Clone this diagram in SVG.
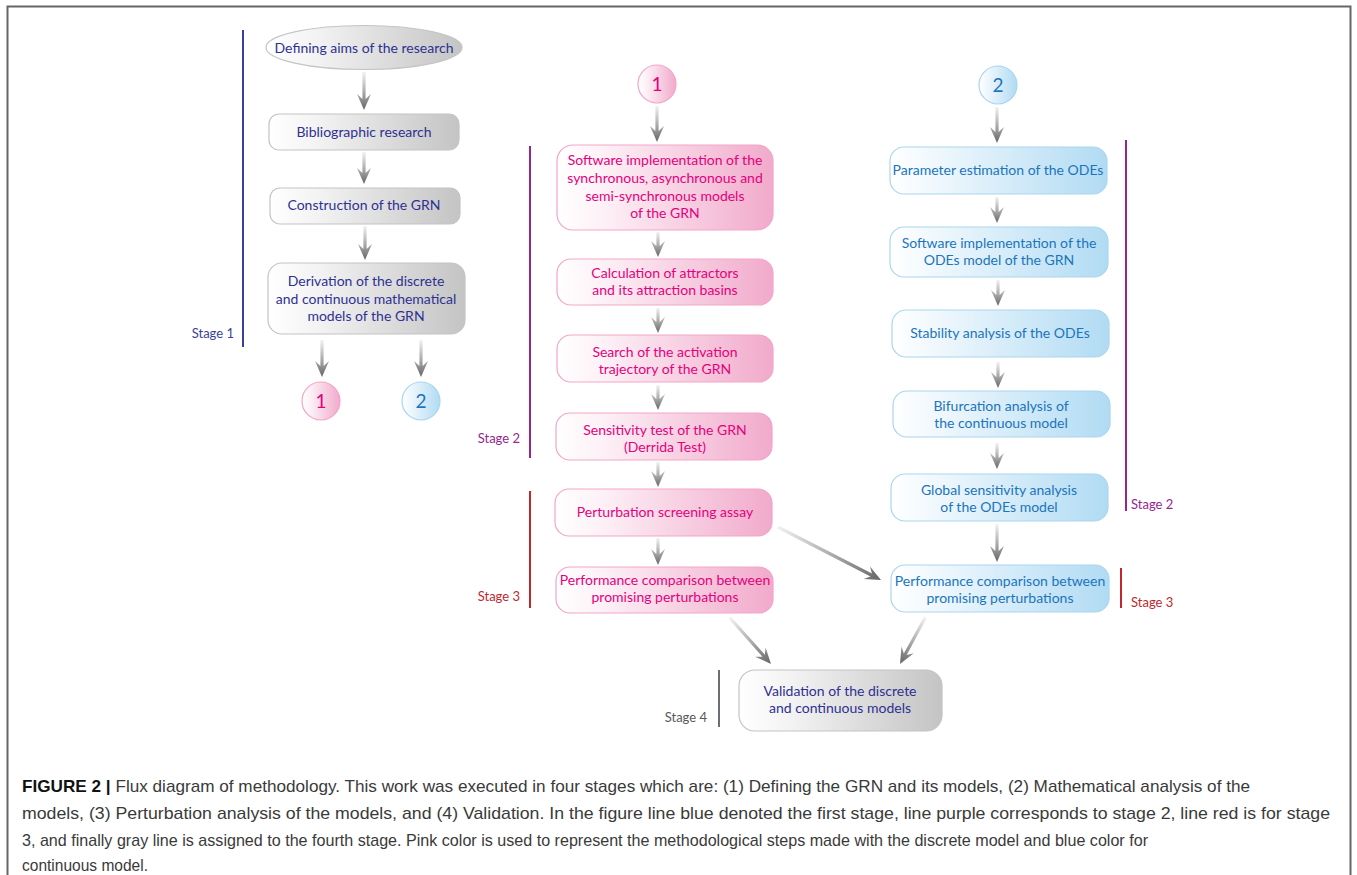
<svg xmlns="http://www.w3.org/2000/svg" width="1357" height="875" viewBox="0 0 1357 875">
<defs>
  <linearGradient id="gGray" x1="0" y1="0" x2="1" y2="0">
    <stop offset="0" stop-color="#ffffff"/><stop offset="0.25" stop-color="#f3f3f3"/><stop offset="1" stop-color="#c4c4c4"/>
  </linearGradient>
  <linearGradient id="gPink" x1="0" y1="0" x2="1" y2="0">
    <stop offset="0" stop-color="#ffffff"/><stop offset="0.2" stop-color="#fdf2f7"/><stop offset="1" stop-color="#f1aacb"/>
  </linearGradient>
  <linearGradient id="gBlue" x1="0" y1="0" x2="1" y2="0">
    <stop offset="0" stop-color="#ffffff"/><stop offset="0.2" stop-color="#f0f8fd"/><stop offset="1" stop-color="#b1dbf3"/>
  </linearGradient>
  <linearGradient id="gArrow" x1="0" y1="0" x2="0" y2="1">
    <stop offset="0" stop-color="#f2f2f2"/><stop offset="0.55" stop-color="#a8a8a8"/><stop offset="1" stop-color="#666666"/>
  </linearGradient>
  <style>
    .gbox{fill:url(#gGray);stroke:#c4c4c4;stroke-width:1.2}
    .pbox{fill:url(#gPink);stroke:#f3a5c8;stroke-width:1.2}
    .bbox{fill:url(#gBlue);stroke:#a9d6f0;stroke-width:1.2}
    .t{font-family:Lato,"Open Sans",sans-serif;font-size:14px;text-anchor:middle}
    .tg{fill:#2e3192}
    .tp{fill:#e5007d}
    .tb{fill:#1b75bc}
    .num{font-family:Lato,"Open Sans",sans-serif;font-size:19px;text-anchor:middle}
    .arr{fill:url(#gArrow)}
    .st{font-family:Lato,"Open Sans",sans-serif;font-size:13px}
    .cap{font-family:"Liberation Sans",Arial,sans-serif;font-size:17px;fill:#3a3a3a}
  </style>
</defs>
<rect x="0" y="0" width="1357" height="875" fill="#ffffff"/>
<path d="M7.5,880 L7.5,6.5 L1350.5,6.5 L1350.5,880" fill="none" stroke="#666" stroke-width="2"/>

<!-- stage lines -->
<g id="stages">
  <line x1="243" y1="30" x2="243" y2="347" stroke="#3b3f98" stroke-width="2"/>
  <text class="st" x="234" y="338" fill="#3b3f98" text-anchor="end">Stage 1</text>
  <line x1="530" y1="146" x2="530" y2="458" stroke="#93278f" stroke-width="2"/>
  <text class="st" x="520" y="443" fill="#93278f" text-anchor="end">Stage 2</text>
  <line x1="530" y1="491" x2="530" y2="608" stroke="#c1272d" stroke-width="2"/>
  <text class="st" x="520" y="601" fill="#c1272d" text-anchor="end">Stage 3</text>
  <line x1="1126" y1="140" x2="1126" y2="511" stroke="#93278f" stroke-width="2"/>
  <text class="st" x="1131" y="509" fill="#93278f">Stage 2</text>
  <line x1="1121" y1="568" x2="1121" y2="608" stroke="#c1272d" stroke-width="2"/>
  <text class="st" x="1131" y="607" fill="#c1272d">Stage 3</text>
  <line x1="719" y1="670" x2="719" y2="727" stroke="#6d6e71" stroke-width="2"/>
  <text class="st" x="707" y="722" fill="#58595b" text-anchor="end">Stage 4</text>
</g>

<!-- nodes: stage 1 -->
<g id="n-aims">
  <ellipse cx="364" cy="47.5" rx="98" ry="22" class="gbox"/>
  <text class="t tg" x="364" y="52.5">Defining aims of the research</text>
</g>
<g id="n-biblio">
  <rect x="269" y="114" width="190" height="36" rx="10" class="gbox"/>
  <text class="t tg" x="364" y="137">Bibliographic research</text>
</g>
<g id="n-construction">
  <rect x="270" y="188" width="190" height="36" rx="10" class="gbox"/>
  <text class="t tg" x="364" y="210">Construction of the GRN</text>
</g>
<g id="n-derivation">
  <rect x="268" y="263" width="197" height="71" rx="14" class="gbox"/>
  <text class="t tg" x="366" y="286">Derivation of the discrete</text>
  <text class="t tg" x="366" y="303.5">and continuous mathematical</text>
  <text class="t tg" x="366" y="321">models of the GRN</text>
</g>
<g id="n-c1a">
  <circle cx="321" cy="401" r="19" fill="url(#gPink)" stroke="#f3a5c8" stroke-width="1.2"/>
  <text class="num tp" x="321" y="408">1</text>
</g>
<g id="n-c2a">
  <circle cx="421" cy="401" r="19" fill="url(#gBlue)" stroke="#a9d6f0" stroke-width="1.2"/>
  <text class="num tb" x="421" y="408">2</text>
</g>

<!-- discrete column -->
<g id="n-c1b">
  <circle cx="657" cy="84" r="19" fill="url(#gPink)" stroke="#f3a5c8" stroke-width="1.2"/>
  <text class="num tp" x="657" y="91">1</text>
</g>
<g id="n-sw-discrete">
  <rect x="557" y="145" width="216" height="85" rx="16" class="pbox"/>
  <text class="t tp" x="665" y="165">Software implementation of the</text>
  <text class="t tp" x="665" y="183">synchronous, asynchronous and</text>
  <text class="t tp" x="665" y="201">semi-synchronous models</text>
  <text class="t tp" x="665" y="218">of the GRN</text>
</g>
<g id="n-attractors">
  <rect x="557" y="259" width="216" height="46" rx="14" class="pbox"/>
  <text class="t tp" x="665" y="278">Calculation of attractors</text>
  <text class="t tp" x="665" y="295">and its attraction basins</text>
</g>
<g id="n-trajectory">
  <rect x="557" y="335" width="216" height="47" rx="14" class="pbox"/>
  <text class="t tp" x="665" y="357">Search of the activation</text>
  <text class="t tp" x="665" y="374">trajectory of the GRN</text>
</g>
<g id="n-derrida">
  <rect x="556" y="413" width="216" height="47" rx="14" class="pbox"/>
  <text class="t tp" x="665" y="435">Sensitivity test of the GRN</text>
  <text class="t tp" x="665" y="452">(Derrida Test)</text>
</g>
<g id="n-screening">
  <rect x="555" y="489" width="217" height="47" rx="14" class="pbox"/>
  <text class="t tp" x="665" y="517">Perturbation screening assay</text>
</g>
<g id="n-perf-discrete">
  <rect x="556" y="567" width="217" height="46" rx="14" class="pbox"/>
  <text class="t tp" x="665" y="585">Performance comparison between</text>
  <text class="t tp" x="665" y="602">promising perturbations</text>
</g>

<!-- continuous column -->
<g id="n-c2b">
  <circle cx="998" cy="85" r="19" fill="url(#gBlue)" stroke="#a9d6f0" stroke-width="1.2"/>
  <text class="num tb" x="998" y="92">2</text>
</g>
<g id="n-param">
  <rect x="890" y="147" width="217" height="47" rx="14" class="bbox"/>
  <text class="t tb" x="998" y="175">Parameter estimation of the ODEs</text>
</g>
<g id="n-sw-ode">
  <rect x="890" y="227" width="218" height="50" rx="14" class="bbox"/>
  <text class="t tb" x="999" y="248">Software implementation of the</text>
  <text class="t tb" x="999" y="265">ODEs model of the GRN</text>
</g>
<g id="n-stability">
  <rect x="892" y="310" width="217" height="47" rx="14" class="bbox"/>
  <text class="t tb" x="1000" y="338">Stability analysis of the ODEs</text>
</g>
<g id="n-bifurcation">
  <rect x="893" y="391" width="217" height="46" rx="14" class="bbox"/>
  <text class="t tb" x="1001" y="411">Bifurcation analysis of</text>
  <text class="t tb" x="1001" y="428">the continuous model</text>
</g>
<g id="n-global">
  <rect x="891" y="474" width="217" height="47" rx="14" class="bbox"/>
  <text class="t tb" x="999" y="495">Global sensitivity analysis</text>
  <text class="t tb" x="999" y="512">of the ODEs model</text>
</g>
<g id="n-perf-cont">
  <rect x="891" y="565" width="218" height="47" rx="14" class="bbox"/>
  <text class="t tb" x="1000" y="586">Performance comparison between</text>
  <text class="t tb" x="1000" y="603">promising perturbations</text>
</g>

<!-- stage 4 -->
<g id="n-validation">
  <rect x="739" y="670" width="203" height="61" rx="16" class="gbox"/>
  <text class="t tg" x="840" y="696">Validation of the discrete</text>
  <text class="t tg" x="840" y="713">and continuous models</text>
</g>

<!-- connectors -->
<g id="connectors">
  <path class="arr" transform="translate(364,110)" d="M-1.6,-38 L1.6,-38 L1.6,-11 L7,-16 L0,0 L-7,-16 L-1.6,-11 Z"/>
  <path class="arr" transform="translate(364,184)" d="M-1.6,-32 L1.6,-32 L1.6,-11 L7,-16 L0,0 L-7,-16 L-1.6,-11 Z"/>
  <path class="arr" transform="translate(365,260)" d="M-1.6,-34 L1.6,-34 L1.6,-11 L7,-16 L0,0 L-7,-16 L-1.6,-11 Z"/>
  <path class="arr" transform="translate(322,377)" d="M-1.6,-37 L1.6,-37 L1.6,-11 L7,-16 L0,0 L-7,-16 L-1.6,-11 Z"/>
  <path class="arr" transform="translate(421,377)" d="M-1.6,-37 L1.6,-37 L1.6,-11 L7,-16 L0,0 L-7,-16 L-1.6,-11 Z"/>

  <path class="arr" transform="translate(657,142)" d="M-1.6,-36 L1.6,-36 L1.6,-11 L7,-16 L0,0 L-7,-16 L-1.6,-11 Z"/>
  <path class="arr" transform="translate(658,257)" d="M-1.6,-25 L1.6,-25 L1.6,-11 L7,-16 L0,0 L-7,-16 L-1.6,-11 Z"/>
  <path class="arr" transform="translate(658,333)" d="M-1.6,-25 L1.6,-25 L1.6,-11 L7,-16 L0,0 L-7,-16 L-1.6,-11 Z"/>
  <path class="arr" transform="translate(658,410)" d="M-1.6,-25 L1.6,-25 L1.6,-11 L7,-16 L0,0 L-7,-16 L-1.6,-11 Z"/>
  <path class="arr" transform="translate(658,487)" d="M-1.6,-25 L1.6,-25 L1.6,-11 L7,-16 L0,0 L-7,-16 L-1.6,-11 Z"/>
  <path class="arr" transform="translate(658,565)" d="M-1.6,-27 L1.6,-27 L1.6,-11 L7,-16 L0,0 L-7,-16 L-1.6,-11 Z"/>

  <path class="arr" transform="translate(997,143)" d="M-1.6,-36 L1.6,-36 L1.6,-11 L7,-16 L0,0 L-7,-16 L-1.6,-11 Z"/>
  <path class="arr" transform="translate(997,223)" d="M-1.6,-26 L1.6,-26 L1.6,-11 L7,-16 L0,0 L-7,-16 L-1.6,-11 Z"/>
  <path class="arr" transform="translate(998,306)" d="M-1.6,-26 L1.6,-26 L1.6,-11 L7,-16 L0,0 L-7,-16 L-1.6,-11 Z"/>
  <path class="arr" transform="translate(998,388)" d="M-1.6,-26 L1.6,-26 L1.6,-11 L7,-16 L0,0 L-7,-16 L-1.6,-11 Z"/>
  <path class="arr" transform="translate(997,469)" d="M-1.6,-26 L1.6,-26 L1.6,-11 L7,-16 L0,0 L-7,-16 L-1.6,-11 Z"/>
  <path class="arr" transform="translate(997,562)" d="M-1.6,-38 L1.6,-38 L1.6,-11 L7,-16 L0,0 L-7,-16 L-1.6,-11 Z"/>

  <path class="arr" transform="translate(881,580) rotate(-62.8)" d="M-1.6,-116 L1.6,-116 L1.6,-11 L7,-16 L0,0 L-7,-16 L-1.6,-11 Z"/>
  <path class="arr" transform="translate(771,664) rotate(-41.7)" d="M-1.6,-62 L1.6,-62 L1.6,-11 L7,-16 L0,0 L-7,-16 L-1.6,-11 Z"/>
  <path class="arr" transform="translate(900,664) rotate(28.5)" d="M-1.6,-53 L1.6,-53 L1.6,-11 L7,-16 L0,0 L-7,-16 L-1.6,-11 Z"/>
</g>

<!-- caption -->
<g id="caption">
  <text class="cap" x="22" y="792" textLength="1228" lengthAdjust="spacingAndGlyphs"><tspan font-weight="bold" fill="#111">FIGURE 2 |</tspan> Flux diagram of methodology. This work was executed in four stages which are: (1) Defining the GRN and its models, (2) Mathematical analysis of the</text>
  <text class="cap" x="22" y="819" textLength="1308" lengthAdjust="spacingAndGlyphs">models, (3) Perturbation analysis of the models, and (4) Validation. In the figure line blue denoted the first stage, line purple corresponds to stage 2, line red is for stage</text>
  <text class="cap" x="22" y="846" textLength="1126" lengthAdjust="spacingAndGlyphs">3, and finally gray line is assigned to the fourth stage. Pink color is used to represent the methodological steps made with the discrete model and blue color for</text>
  <text class="cap" x="22" y="871" textLength="126" lengthAdjust="spacingAndGlyphs">continuous model.</text>
</g>
</svg>
